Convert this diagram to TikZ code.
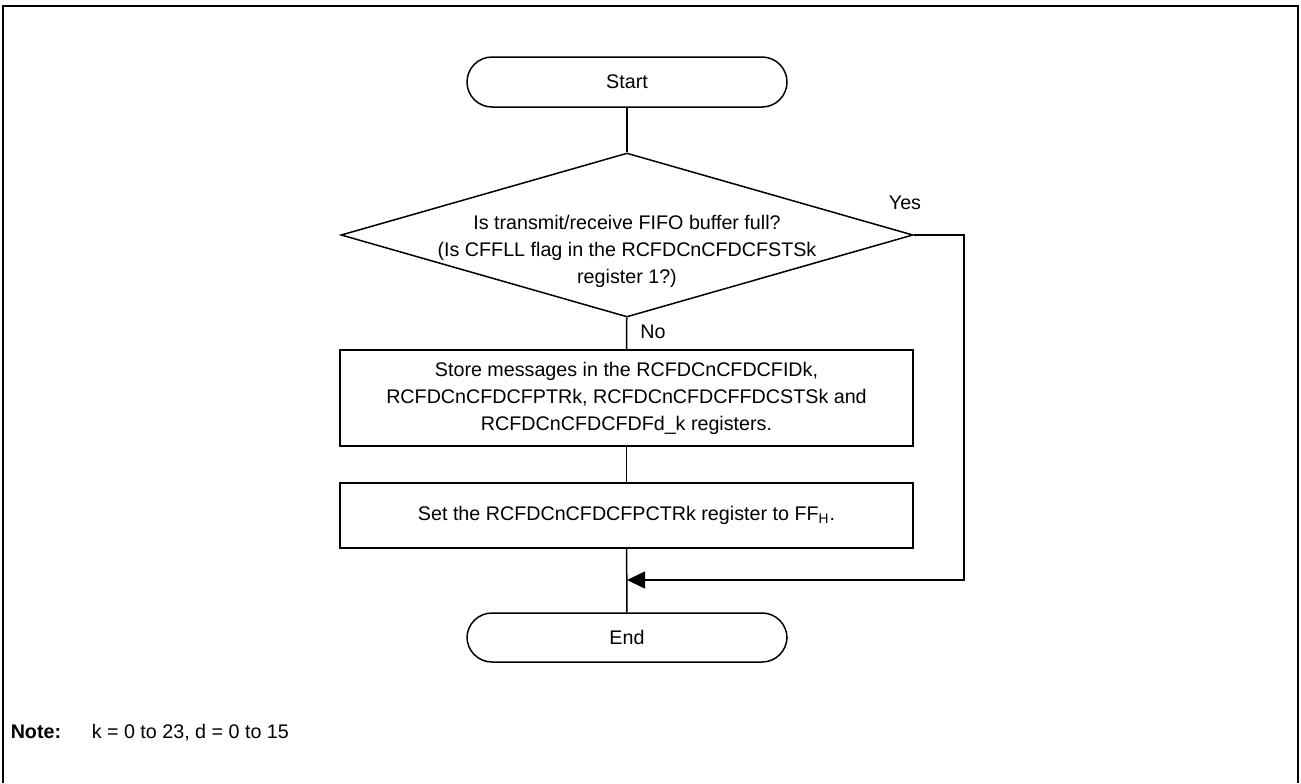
\documentclass[tikz,border=0pt]{standalone}
\usepackage{fontspec}
\setmainfont{Liberation Sans}
\usetikzlibrary{arrows.meta, shapes.geometric}

\begin{document}
\begin{tikzpicture}[x=0.5pt, y=-0.5pt, line width=0.75pt,
	every node/.style={font=\fontsize{9.85}{13.5}\selectfont, inner sep=0pt},
	term/.style={draw, rectangle, rounded corners=12.5pt, minimum width=160pt, minimum height=25pt},
	proc/.style={draw, rectangle, minimum width=286.5pt, align=center},
	decide/.style={draw, diamond, minimum width=286pt, minimum height=82pt},
	lbl/.style={align=center}]

	\useasboundingbox (0,0) rectangle (1301,783);

	% ============ FRAME ============
	\draw[line width=1pt] (3,783) -- (3,6) -- (1298,6) -- (1298,783);

	% ============ FLOW ============
	\node[term] (start) at (627,82) {Start};
	\node[decide] (full) at (627,235) {};
	\node[lbl] (fulltxt) at (627,251) {Is transmit/receive FIFO buffer full?\\(Is CFFLL flag in the RCFDCnCFDCFSTSk\\register 1?)};
	\node[proc, minimum height=48pt] (store) at (626.5,398) {Store messages in the RCFDCnCFDCFIDk,\\RCFDCnCFDCFPTRk, RCFDCnCFDCFFDCSTSk and\\RCFDCnCFDCFDFd\_k registers.};
	\node[proc, minimum height=32.5pt] (setptr) at (626.5,515.5) {Set the RCFDCnCFDCFPCTRk register to FF\textsubscript{H}.};
	\node[term, minimum height=24.5pt] (end) at (627,637.5) {End};

	\coordinate (join) at (627,580);
	\coordinate (loop) at (964,580);

	% Connectors
	\draw (start) -- (full);
	\draw (full) -- (store);
	\draw (store) -- (setptr);
	\draw (setptr) -- (end);
	\draw[-{Triangle[length=9pt, width=8.5pt]}] (full.east) -| (loop) -- (join);

	% Labels
	\node (yes) at (905,203) {Yes};
	\node (no) at (653,332) {No};

	% ============ NOTE ============
	\node[anchor=base west] (note) at (10,738) {\textbf{Note:}};
	\node[anchor=base west] (notetxt) at (91,738) {k = 0 to 23, d = 0 to 15};

\end{tikzpicture}
\end{document}
